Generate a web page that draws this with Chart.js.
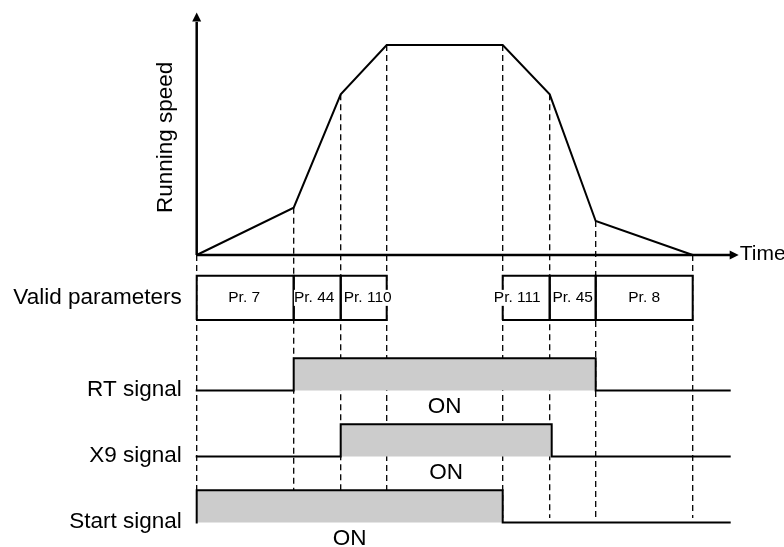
<!DOCTYPE html>
<html>
<head>
<meta charset="utf-8">
<script src="https://cdn.jsdelivr.net/npm/chart.js@4/dist/chart.umd.min.js"></script>
<style>
html,body{margin:0;padding:0;background:#fff;}
#wrap{width:784px;height:547px;position:relative;}
</style>
</head>
<body>
<div id="wrap"><canvas id="c"></canvas></div>
<script>
// ---- data ----
const TIMES = [0, 97, 144, 190, 306, 353, 399, 496];          // breakpoints (time units)
const SPEED = [0, 22.5, 76.5, 100, 100, 76.5, 16.2, 0];        // running speed (% of max)
const PARAM_LABELS = ['Pr. 7', 'Pr. 44', 'Pr. 110', 'Pr. 111', 'Pr. 45', 'Pr. 8'];
const PARAM_START  = [0, 97, 144, 306, 353, 399];
const PARAM_END    = [97, 144, 190, 353, 399, 496];
const PARAM_SHIFT  = [-1, -3, 4, -9, 0, 0];
const SIGNAL_NAMES = ['Start signal', 'X9 signal', 'RT signal'];   // lane 0,1,2
const SIGNAL_ON    = [0, 144, 97];
const SIGNAL_OFF   = [306, 355, 399];
const ON_LABEL = 'ON';

// ---- layout constants (not data) ----
const FONT = '"Liberation Sans", Arial, Helvetica, sans-serif';
const X_START = -1, X_END = 534, X_TIP = 542;
const Y_AXIS_TOP = 111, Y_TIP = 115.5;
const GUIDE_BOTTOM = -125.2;
const LOW = 0.37, HIGH = 0.86, ON_Y = 0.13;
const BOX_BOTTOM = 3.44, BOX_TOP = 4.11;

const datasets = [];
const base = {pointRadius:0, pointHoverRadius:0, fill:false, tension:0, clip:false, spanGaps:false};

// speed curve
datasets.push(Object.assign({}, base, {
  data: TIMES.map((t,i)=>({x:t, y:SPEED[i]})),
  borderColor:'#000', borderWidth:2, yAxisID:'speed', order:1
}));
// axes
datasets.push(Object.assign({}, base, {
  data:[{x:0,y:0},{x:X_END,y:0}], borderColor:'#000', borderWidth:2.5, yAxisID:'speed', order:1
}));
datasets.push(Object.assign({}, base, {
  data:[{x:0,y:0},{x:0,y:Y_AXIS_TOP}], borderColor:'#000', borderWidth:2.5, yAxisID:'speed', order:1
}));
// dashed guides
TIMES.forEach((t,i)=>{
  datasets.push(Object.assign({}, base, {
    data:[{x:t,y:SPEED[i]},{x:t,y:GUIDE_BOTTOM}],
    borderColor:'#000', borderWidth:1.3, borderDash:[6,4], yAxisID:'speed', order:10
  }));
});
// parameter boxes
PARAM_LABELS.forEach((l,i)=>{
  const a = PARAM_START[i], b = PARAM_END[i];
  datasets.push(Object.assign({}, base, {
    data:[{x:a,y:BOX_BOTTOM},{x:a,y:BOX_TOP},{x:b,y:BOX_TOP},{x:b,y:BOX_BOTTOM},{x:a,y:BOX_BOTTOM}],
    borderColor:'#000', borderWidth:2, borderJoinStyle:'miter', yAxisID:'lane', order:4
  }));
});
// signals
SIGNAL_NAMES.forEach((n,i)=>{
  const lo = i + LOW, hi = i + HIGH, on = SIGNAL_ON[i], off = SIGNAL_OFF[i];
  const pts = [];
  if (on > X_START) pts.push({x:X_START,y:lo});
  pts.push({x:Math.max(on,X_START),y:lo},{x:Math.max(on,X_START),y:hi},{x:off,y:hi},{x:off,y:lo},{x:X_END,y:lo});
  datasets.push(Object.assign({}, base, {
    data:pts, borderColor:'#000', borderWidth:2, borderJoinStyle:'miter',
    fill:{value:lo}, backgroundColor:'#cccccc', yAxisID:'lane', order:5
  }));
});

const annot = {
  id:'annot',
  afterDatasetsDraw(chart){
    const {ctx, scales} = chart;
    const x = scales.x, sp = scales.speed, ln = scales.lane;
    ctx.save();
    ctx.fillStyle = '#000';
    // arrowheads
    const xt = x.getPixelForValue(X_TIP), y0 = sp.getPixelForValue(0);
    ctx.beginPath(); ctx.moveTo(xt, y0); ctx.lineTo(xt-9, y0-4.5); ctx.lineTo(xt-9, y0+4.5); ctx.closePath(); ctx.fill();
    const x0 = x.getPixelForValue(0), yt = sp.getPixelForValue(Y_TIP);
    ctx.beginPath(); ctx.moveTo(x0, yt); ctx.lineTo(x0-4.5, yt+9); ctx.lineTo(x0+4.5, yt+9); ctx.closePath(); ctx.fill();

    // Time label
    ctx.font = '21px ' + FONT; ctx.textBaseline = 'middle'; ctx.textAlign = 'left';
    ctx.fillText('Time', xt + 1, y0 - 1);
    // Running speed
    ctx.save();
    ctx.translate(x0 - 31, sp.getPixelForValue(56));
    ctx.rotate(-Math.PI/2);
    ctx.font = '22.5px ' + FONT; ctx.textAlign = 'center';
    ctx.fillText('Running speed', 0, 0);
    ctx.restore();

    // row labels
    ctx.font = '22.5px ' + FONT; ctx.textAlign = 'right';
    const lx = x0 - 15;
    ctx.fillText('Valid parameters', lx, ln.getPixelForValue((BOX_TOP+BOX_BOTTOM)/2));
    SIGNAL_NAMES.forEach((n,i)=>{
      ctx.fillText(n, lx, ln.getPixelForValue(i + LOW + 0.01));
    });
    // ON labels
    ctx.textAlign = 'center';
    SIGNAL_NAMES.forEach((n,i)=>{
      ctx.fillText(ON_LABEL, x.getPixelForValue((SIGNAL_ON[i]+SIGNAL_OFF[i])/2), ln.getPixelForValue(i + ON_Y));
    });
    // parameter labels
    ctx.font = '15.5px ' + FONT;
    const ym = ln.getPixelForValue((BOX_TOP+BOX_BOTTOM)/2);
    PARAM_LABELS.forEach((l,i)=>{
      const cx = x.getPixelForValue((PARAM_START[i]+PARAM_END[i])/2 + PARAM_SHIFT[i]);
      const w = ctx.measureText(l).width;
      ctx.fillStyle = '#fff';
      ctx.fillRect(cx - w/2, ym - 8, w, 16);
      ctx.fillStyle = '#000';
      ctx.fillText(l, cx, ym);
    });
    ctx.restore();
  }
};

new Chart(document.getElementById('c'), {
  type:'line',
  data:{datasets},
  options:{
    responsive:true, maintainAspectRatio:false, animation:false,
    layout:{padding:0},
    events:[],
    plugins:{legend:{display:false}, tooltip:{enabled:false}},
    scales:{
      x:{type:'linear', display:false, min:-196.7, max:587.3},
      speed:{type:'linear', display:false, position:'left', min:-139.05, max:121.43},
      lane:{type:'linear', display:false, position:'left', min:0, max:547/66}
    }
  },
  plugins:[annot]
});
</script>
</body>
</html>
